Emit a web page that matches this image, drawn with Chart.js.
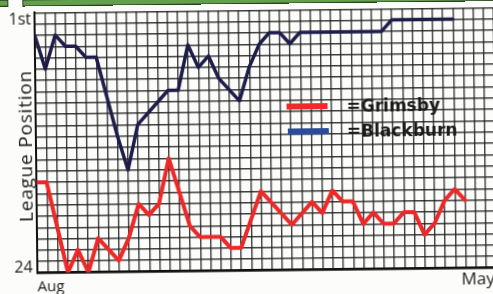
<!DOCTYPE html>
<html>
<head>
<meta charset="utf-8">
<title>League Position</title>
<script src="https://cdn.jsdelivr.net/npm/chart.js@4.4.1/dist/chart.umd.min.js"></script>
<style>
  html, body { margin: 0; padding: 0; width: 493px; height: 294px; overflow: hidden; background: #fcfcfa; }
  /* the source is a photo of a page, tilted a little */
  #page { position: absolute; left: 0; top: 0; width: 520px; height: 294px;
          transform: rotate(-0.65deg); transform-origin: 246.5px 147px; }
  #chart { position: absolute; left: 0; top: 0; }
  .lbl { position: absolute; font-family: "Open Sans", sans-serif; color: #1c1c1c; line-height: 1; white-space: nowrap; }
  .key { position: absolute; font-family: "DejaVu Sans", sans-serif; font-weight: bold; font-size: 17px;
         color: #1a1a1a; line-height: 1; white-space: nowrap; }
  .swatch { position: absolute; width: 41px; height: 6px; }
  .greenbar { position: absolute; top: -3px; height: 5px; background: #62a04c; border: 1.5px solid #2c3f25; }
</style>
</head>
<body>
<div id="page">
  <canvas id="chart" width="520" height="294"></canvas>

  <div class="greenbar" style="left:-4px; width:12px;"></div>
  <div class="greenbar" style="left:24px; width:500px;"></div>

  <div class="lbl" style="left:10px; top:8px; font-size:16px;">1st</div>
  <div class="lbl" style="left:13px; top:256px; font-size:16px;">24</div>
  <div class="lbl" style="left:36px; top:275.5px; font-size:15px;">Aug</div>
  <div class="lbl" style="left:460px; top:271.5px; font-size:17px;">May</div>
  <div class="lbl" style="left:-60px; top:134px; width:170px; text-align:center; font-size:19px;
       letter-spacing:0.8px; transform:rotate(-90deg);">League Position</div>

  <div class="swatch" style="left:287px; top:103.5px; background:#ee2a2a;"></div>
  <div class="swatch" style="left:288px; top:128.5px; background:#2b4b9b;"></div>
  <div class="key" style="left:347px; top:99px;">=Grimsby</div>
  <div class="key" style="left:347px; top:124px;">=Blackburn</div>
</div>

<script>
// Match number (one per vertical grid line, Aug = 0) and league position at each turn of the line
const grimsbyMatches = [0, 1, 3, 4, 5, 6, 8, 9, 10, 11, 12, 13, 15, 16, 18, 19, 20, 22, 25, 27,
                        28, 29, 30, 31, 32, 33, 34, 35, 36, 37, 38, 39, 40, 41, 42];
const grimsbyPositions = [16, 16, 24, 22, 24, 21, 23, 21, 18, 19, 18, 14, 20, 21, 21, 22, 22, 17, 20, 18,
                          19, 17, 18, 18, 20, 19, 20, 20, 19, 19, 21, 20, 18, 17, 18];

const blackburnMatches = [0, 1, 2, 3, 4, 5, 6, 8, 9, 10, 13, 14, 15, 16, 17, 18, 20, 21, 22, 23,
                          24, 25, 26, 34, 35, 41];
const blackburnPositions = [3, 6, 3, 4, 4, 5, 5, 12, 15, 11, 8, 8, 4, 6, 5, 7, 9, 6, 4, 3,
                            3, 4, 3, 3, 2, 2];

// Axis ranges: 1st at the top, 24th at the bottom
const topPosition = 1;
const bottomPosition = 24;
const firstMatch = 0;
const lastGridMatch = 47.45; // grid runs on past the right edge of the picture

// Helper: pair up x and y arrays
const toPoints = (xs, ys) => xs.map((x, i) => ({ x: x, y: ys[i] }));

const gridStyle = { color: 'rgba(28,28,28,0.85)', lineWidth: 1.4, drawTicks: false };
const hiddenTicks = { display: false, stepSize: 1, autoSkip: false, includeBounds: false, maxTicksLimit: 100 };

new Chart(document.getElementById('chart').getContext('2d'), {
    type: 'line',
    data: {
        datasets: [{
            label: 'Blackburn',
            data: toPoints(blackburnMatches, blackburnPositions),
            borderColor: '#1e1d4a',
            borderWidth: 3.5,
            pointRadius: 0,
            tension: 0,
            borderJoinStyle: 'round',
            borderCapStyle: 'round'
        }, {
            label: 'Grimsby',
            data: toPoints(grimsbyMatches, grimsbyPositions),
            borderColor: '#ee2727',
            borderWidth: 4,
            pointRadius: 0,
            tension: 0,
            borderJoinStyle: 'round',
            borderCapStyle: 'round'
        }]
    },
    options: {
        responsive: false,
        animation: false,
        devicePixelRatio: 1,
        layout: { padding: { left: 36, right: 0, top: 10.3, bottom: 23.5 } },
        plugins: { legend: { display: false }, tooltip: { enabled: false } },
        scales: {
            x: {
                type: 'linear',
                min: firstMatch,
                max: lastGridMatch,
                ticks: hiddenTicks,
                grid: gridStyle,
                border: { color: '#111', width: 2.5 }
            },
            y: {
                type: 'linear',
                min: topPosition,
                max: bottomPosition,
                reverse: true,
                ticks: hiddenTicks,
                grid: gridStyle,
                border: { color: '#111', width: 2 }
            }
        }
    }
});
</script>
</body>
</html>
